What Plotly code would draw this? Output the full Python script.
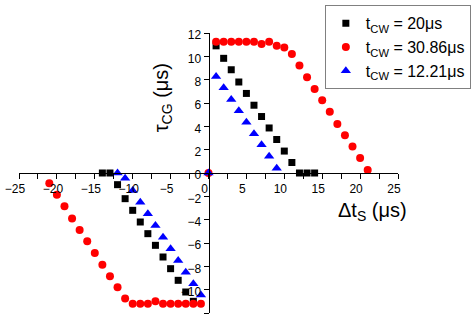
import plotly.graph_objects as go

# t_cw = 20 us (black squares)
x_black = [-14, -13, -12, -11, -10, -9, -8, -7, -6, -5, -4, -3, -2,
           1, 2, 3, 4, 5, 6, 7, 8, 9, 10, 11, 12, 13, 14]
y_black = [0, 0, -1.0, -2.2, -3.2, -4.2, -5.2, -6.2, -7.2, -8.2, -9.2, -10.2, -11.0,
           10.9, 9.83, 8.85, 7.8, 6.82, 5.81, 4.84, 3.86, 2.87, 1.88, 0.9, 0, 0, 0]

# t_cw = 30.86 us (red circles)
x_red = [-21, -20, -19, -18, -17, -16, -15, -14, -13, -12, -11, -10, -9, -8, -7, -6, -5, -4, -3, -2, -1,
         0,
         1, 2, 3, 4, 5, 6, 7, 8, 9, 10, 11, 12, 13, 14, 15, 16, 17, 18, 19, 20, 21]
y_red = [-0.87, -1.86, -2.85, -3.89, -4.88, -5.86, -6.85, -7.86, -8.85, -9.8, -10.76,
         -11.2, -11.2, -11.2, -11.0, -11.2, -11.2, -11.2, -11.2, -11.2, -11.2,
         0,
         11.24, 11.24, 11.24, 11.24, 11.24, 11.24, 11.05, 11.24, 10.9, 10.76, 10.2,
         9.21, 8.2, 7.21, 6.23, 5.24, 4.2, 3.24, 2.28, 1.29, 0.25]

# t_cw = 12.21 us (blue triangles)
x_blue = [-12, -11, -10, -9, -8, -7, -6, -5, -4, -3, -2, -1,
          0,
          1, 2, 3, 4, 5, 6, 7, 8, 9]
y_blue = [0, -0.45, -1.5, -2.5, -3.5, -4.5, -5.5, -6.5, -7.5, -8.5, -9.5, -10.45,
          0,
          8.28, 7.3, 6.31, 5.33, 4.34, 3.36, 2.43, 1.44, 0.4]

names = ["t<sub>CW</sub> = 20μs", "t<sub>CW</sub> = 30.86μs", "t<sub>CW</sub> = 12.21μs"]

x_ticks = [-25, -20, -15, -10, -5, 0, 5, 10, 15, 20, 25]
y_ticks = [-12, -10, -8, -6, -4, -2, 0, 2, 4, 6, 8, 10, 12]

fig = go.Figure()
fig.add_trace(go.Scatter(x=x_black, y=y_black, mode="markers", name=names[0],
                         marker=dict(symbol="square", size=7, color="black")))
fig.add_trace(go.Scatter(x=x_red, y=y_red, mode="markers", name=names[1],
                         marker=dict(symbol="circle", size=8, color="#ff0000")))
fig.add_trace(go.Scatter(x=x_blue, y=y_blue, mode="markers", name=names[2],
                         marker=dict(symbol="triangle-up", size=9, color="#0000ff")))

font_family = "Liberation Sans, Arial, sans-serif"

fig.update_layout(
    width=476, height=318,
    margin=dict(l=15, r=78, t=31, b=5),
    paper_bgcolor="white", plot_bgcolor="white",
    font=dict(family=font_family, color="black", size=12),
    xaxis=dict(range=[-25, 25], tickvals=x_ticks, anchor="free", position=0.5,
               showline=True, linecolor="black", linewidth=1,
               ticks="outside", ticklen=5, tickcolor="black",
               minor=dict(dtick=2.5, ticks="outside", ticklen=5, tickcolor="black"),
               showgrid=False, zeroline=False, ticklabelshift=-4,
               tickfont=dict(size=12)),
    yaxis=dict(range=[-12, 12], tickvals=y_ticks, anchor="free", position=0.5,
               showline=True, linecolor="black", linewidth=1,
               ticks="outside", ticklen=5, tickcolor="black",
               showgrid=False, zeroline=False, ticklabelshift=2,
               tickfont=dict(size=12)),
    showlegend=True,
    legend=dict(x=0.807, y=1.099, xanchor="left", yanchor="top",
                bordercolor="#808080", borderwidth=1, bgcolor="white",
                font=dict(size=16), itemwidth=30, tracegroupgap=0),
    annotations=[
        dict(text="τ<sub>CG</sub> (μs)", xref="paper", yref="paper", x=0.378, y=0.898,
             showarrow=False, textangle=-90, font=dict(size=20)),
        dict(text="Δt<sub>S</sub> (μs)", xref="paper", yref="paper", x=1.029, y=0.363,
             showarrow=False, font=dict(size=20)),
    ],
)

fig.write_html("out.html")
